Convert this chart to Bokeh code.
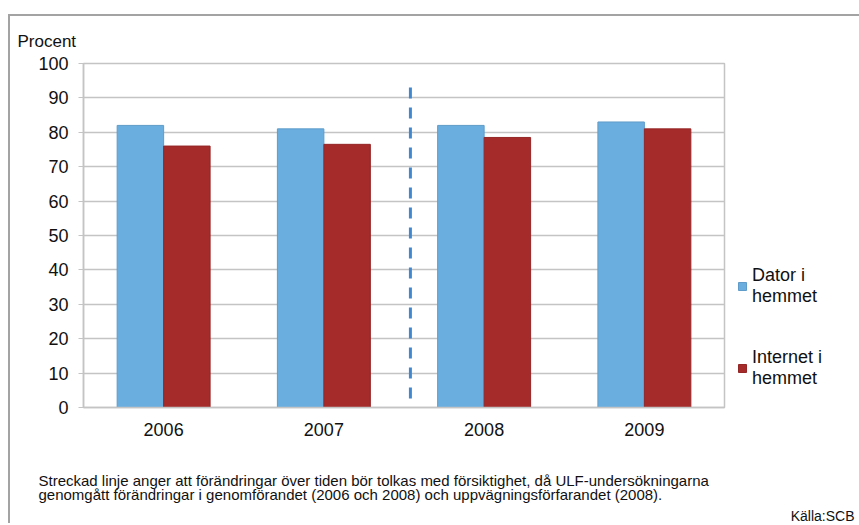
from bokeh.plotting import figure
from bokeh.layouts import column, row
from bokeh.models import (FactorRange, Range1d, Legend, LegendItem, Title, Label,
                          FixedTicker, ColumnDataSource)
from bokeh.transform import dodge
from bokeh.embed import file_html
from bokeh.resources import INLINE

# ---- data ----
years = ["2006", "2007", "2008", "2009"]
dator = [82, 81, 82, 83]
internet = [76, 76.5, 78.5, 81]
series_labels = ["Dator i\nhemmet", "Internet i\nhemmet"]
y_ticks = [0, 10, 20, 30, 40, 50, 60, 70, 80, 90, 100]
break_year = "2008"
break_top = 93
y_title = "Procent"
note_lines = [
    "Streckad linje anger att förändringar över tiden bör tolkas med försiktighet, då ULF-undersökningarna",
    "genomgått förändringar i genomförandet (2006 och 2008) och uppvägningsförfarandet (2008).",
]
source_text = "Källa:SCB"

FONT = "Liberation Sans"
BLUE = "#6aaee0"
RED = "#a52a2a"
GRID = "#c4c4c4"
TXT = "#111111"

W = 849
W_MAIN = 716
H_MAIN = 434
H_NOTE = 73


def blank(fig):
    fig.axis.visible = False
    fig.grid.visible = False
    fig.outline_line_color = None
    fig.background_fill_color = "white"
    fig.border_fill_color = "white"


src = ColumnDataSource(dict(year=years, dator=dator, internet=internet))

p = figure(width=W_MAIN, height=H_MAIN, output_backend="svg", toolbar_location=None,
           x_range=FactorRange(*years, range_padding=0),
           y_range=Range1d(0, 100),
           min_border_left=73, min_border_right=W_MAIN - 714,
           min_border_top=47, min_border_bottom=H_MAIN - 391)
p.background_fill_color = "white"
p.border_fill_color = "white"
p.outline_line_color = GRID
p.outline_line_width = 1.5

p.vbar(x=dodge("year", -0.145, range=p.x_range), top="dator", width=0.29,
       source=src, fill_color=BLUE, line_color="#5f9cc9", line_width=1)
p.vbar(x=dodge("year", 0.145, range=p.x_range), top="internet", width=0.29,
       source=src, fill_color=RED, line_color="#952626", line_width=1)

p.segment(x0=[(break_year, -0.46)], x1=[(break_year, -0.46)], y0=[break_top], y1=[0],
          line_color="#3f88d0", line_width=3, line_dash="11 9")

# axes
p.yaxis.ticker = FixedTicker(ticks=y_ticks)
p.yaxis.axis_line_color = GRID
p.yaxis.axis_line_width = 1.5
p.yaxis.major_tick_line_color = GRID
p.yaxis.major_tick_out = 5
p.yaxis.major_tick_in = 0
p.yaxis.minor_tick_line_color = None
p.yaxis.major_label_standoff = 10
p.yaxis.major_label_text_font = FONT
p.yaxis.major_label_text_font_size = "18px"
p.yaxis.major_label_text_color = TXT

p.xaxis.axis_line_color = GRID
p.xaxis.axis_line_width = 1.5
p.xaxis.major_tick_line_color = None
p.xaxis.major_tick_out = 0
p.xaxis.minor_tick_line_color = None
p.xaxis.major_label_standoff = 15
p.xaxis.major_label_text_font = FONT
p.xaxis.major_label_text_font_size = "18px"
p.xaxis.major_label_text_color = TXT

p.xgrid.grid_line_color = None
p.ygrid.grid_line_color = GRID
p.ygrid.grid_line_width = 1.5

p.add_layout(Title(text=y_title, align="left", offset=-66, standoff=25,
                   text_font=FONT, text_font_size="17px", text_font_style="normal",
                   text_color=TXT), "above")

# legend panel to the right of the chart (keys share the series' source, hidden)
lg = figure(width=W - W_MAIN, height=H_MAIN, output_backend="svg", toolbar_location=None,
            x_range=Range1d(0, 1), y_range=Range1d(0, 1),
            min_border_left=0, min_border_right=0, min_border_top=0, min_border_bottom=0)
blank(lg)
k1 = lg.vbar(x=0.5, top="dator", width=0.1, source=src,
             fill_color=BLUE, line_color="#5f9cc9", visible=False)
k2 = lg.vbar(x=0.5, top="internet", width=0.1, source=src,
             fill_color=RED, line_color="#952626", visible=False)
legend = Legend(items=[LegendItem(label=series_labels[0], renderers=[k1]),
                       LegendItem(label=series_labels[1], renderers=[k2])],
                location=(11, 18), orientation="vertical",
                padding=0, margin=0, spacing=40,
                glyph_width=10, glyph_height=10, label_standoff=5,
                label_text_font=FONT, label_text_font_size="18px",
                label_text_line_height=1.35,
                label_text_color=TXT,
                background_fill_alpha=0, border_line_color=None)
lg.add_layout(legend, "center")

# note area below the chart
q = figure(width=W, height=H_NOTE, output_backend="svg", toolbar_location=None,
           x_range=Range1d(0, W), y_range=Range1d(H_NOTE, 0),
           min_border_left=0, min_border_right=0, min_border_top=0, min_border_bottom=0)
blank(q)
for i, line in enumerate(note_lines):
    q.add_layout(Label(x=28, y=29.5 + 14.5 * i, text=line, text_font=FONT,
                       text_font_size="15px", text_color=TXT,
                       text_align="left", text_baseline="middle"))
q.add_layout(Label(x=W - 5, y=65, text=source_text, text_font=FONT,
                   text_font_size="14px", text_color=TXT,
                   text_align="right", text_baseline="middle"))

layout = column(row(p, lg, spacing=0), q, spacing=0)
layout.styles = {"margin-left": "8px", "margin-top": "14px",
                 "border-left": "2px solid #a3a3a3", "border-top": "2px solid #a3a3a3"}

open("out.html", "w").write(file_html(layout, INLINE))
